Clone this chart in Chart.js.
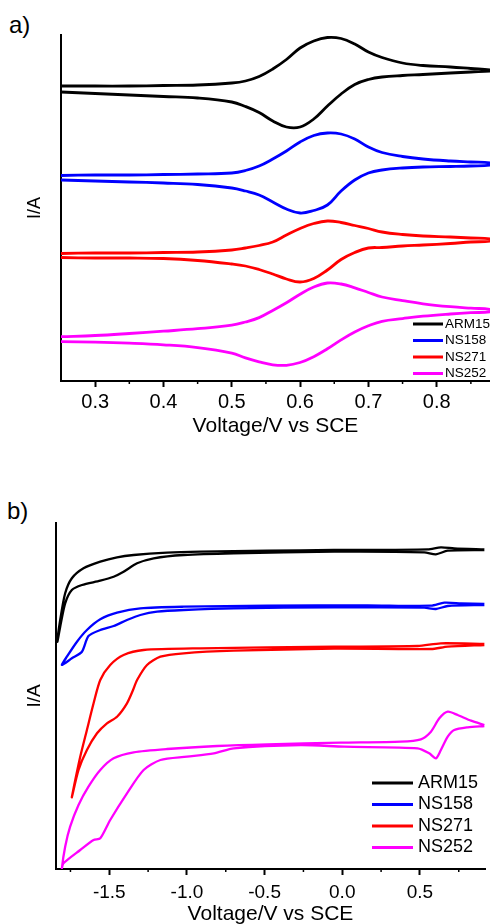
<!DOCTYPE html>
<html><head><meta charset="utf-8">
<script src="https://cdn.jsdelivr.net/npm/chart.js@4.4.1/dist/chart.umd.min.js"></script>
<style>
html,body{margin:0;padding:0;background:#fff;}
body{width:490px;height:924px;overflow:hidden;position:relative;font-family:"Liberation Sans",Arial,sans-serif;}
.lbl{position:absolute;color:#000;line-height:1;white-space:nowrap;}
canvas{position:absolute;left:0;}
</style></head><body>
<div class="lbl" style="left:9px;top:13px;font-size:24px">a)</div>
<div class="lbl" style="left:7px;top:499px;font-size:24px">b)</div>
<canvas id="ca" width="490" height="450" style="top:0"></canvas>
<canvas id="cb" width="490" height="470" style="top:460px"></canvas>
<script>
const seriesNames = ['ARM15','NS158','NS271','NS252'];

// ---- Panel a (0.25 - 0.88 V) : forward (upper) and reverse (lower) branches ----
const voltsA = [0.25,0.30,0.35,0.40,0.45,0.50,0.52,0.54,0.56,0.58,0.60,0.62,0.64,0.66,0.68,0.70,0.72,0.75,0.78,0.82,0.85,0.88];
const arm15FwdA = [296,296,296,296.5,297,299,301,305.5,313,322.5,334,341,344.5,343.5,338,330,324.5,319,316.5,315,313.5,312];
const arm15RevA = [290,288.5,287,285.5,284,280,275.5,269.5,261,255,255,263,276,288,297.5,302.5,305,306.5,307.5,309,310,311];
const ns158FwdA = [206.5,207,207,207.5,208,209,211.5,216,223,231,240,246.5,249,248,243,235,229.5,225.5,223,221,220,219];
const ns158RevA = [202,201,200,199,197.5,194,191,187,180,173,169,171.5,177,191,202,209,212,214,215,215.5,216,217];
const ns271FwdA = [128.5,129,129,129.5,130,132,134,136.5,140,147,153.5,158.5,161,159.5,156.5,153.5,150,147.5,146,145,144,143];
const ns271RevA = [124.5,124,124,123.5,121.5,118,116,112.5,108,103,100,103.5,112,122.5,129.5,134,134.5,136,137,138.5,140,141];
const ns252FwdA = [45.3,46.5,48.5,50.8,53.3,56.8,60,64.4,71.6,79.3,87.8,95,99,98,94.2,89.5,85,81.4,78.2,75.3,73.8,72.5];
const ns252RevA = [40.3,39.8,38.8,37.2,34.4,28.9,24.1,20.2,17.2,16.7,19.5,25.3,33.2,42.1,50,56.2,60.7,63.4,65.8,68,69.3,70.3];
const majorTicksA = [0.3,0.4,0.5,0.6,0.7,0.8];
const minorTicksA = [0.35,0.45,0.55,0.65,0.75,0.85];

// ---- Panel b (-1.84 - 0.92 V) : closed loops, points in scan order ----
const arm15VoltsB = [0.915,0.721,0.635,0.55,-0.053,-0.483,-0.913,-1.128,-1.343,-1.45,-1.558,-1.666,-1.741,-1.784,-1.816,-1.834,-1.816,-1.784,-1.741,-1.676,-1.558,-1.472,-1.408,-1.321,-1.214,-1.021,-0.698,-0.053,0.528,0.603,0.679,0.915];
const arm15CurrB  = [320.7,321.7,322.7,320.7,320,319.3,318.3,317.3,315,312.7,308.3,301.7,291.7,276.7,250,228.3,243.3,266.7,280,285,289.3,293.3,298.3,306.7,311.7,315,316.7,318.3,317.7,315.7,319.3,320];
const ns158VoltsB = [0.915,0.765,0.657,0.571,0.163,-0.483,-1.021,-1.3,-1.45,-1.558,-1.644,-1.708,-1.773,-1.805,-1.741,-1.676,-1.634,-1.558,-1.472,-1.386,-1.3,-1.192,-1.021,-0.698,-0.053,0.528,0.603,0.679,0.915];
const ns158CurrB  = [266,266.7,267.3,264.3,264.7,264.3,263.3,261.7,257.3,250.7,240,228.3,213.3,205,211.7,218.3,234,240,244,250,255,258.3,260,261.7,262.7,262.3,261,264,265];
const ns271VoltsB = [0.915,0.635,0.485,-0.053,-0.913,-1.279,-1.408,-1.494,-1.558,-1.601,-1.644,-1.687,-1.719,-1.741,-1.698,-1.644,-1.579,-1.515,-1.45,-1.386,-1.347,-1.321,-1.257,-1.171,-1.021,-0.698,-0.053,0.571,0.679,0.915];
const ns271CurrB  = [226,226.7,224,223.3,221.7,220,215,205,190,166.7,140,113.3,90,72.7,100,120,136.7,146.7,153.3,166.7,180,190,205,213.3,216.7,219.3,221.3,221,223.3,225];
const ns252VoltsB = [0.915,0.829,0.743,0.679,0.625,0.571,0.506,0.377,-0.01,-0.483,-0.805,-1.128,-1.343,-1.472,-1.558,-1.634,-1.698,-1.752,-1.784,-1.805,-1.795,-1.687,-1.601,-1.558,-1.494,-1.386,-1.279,-1.171,-0.999,-0.827,-0.698,-0.268,0.012,0.485,0.56,0.603,0.635,0.679,0.721,0.808,0.915];
const ns252CurrB  = [145,149.3,155,158.3,151.7,138.3,130.7,128.3,127.3,125.7,124,121,117.7,111.7,100,83.3,65,43.3,23.3,1.7,6.7,20,30,31.7,50,76.7,100,110,113.3,116.7,121.7,125,123.3,121.7,116.7,111.7,120,133.3,140,142.7,144];
const majorTicksB = [-1.5,-1.0,-0.5,0.0,0.5];
const minorTicksB = [-1.75,-1.25,-0.75,-0.25,0.25,0.75];

const COLORS = ['#000000','#0000ff','#ff0000','#ff00ff'];
const FONT = '"Liberation Sans", Arial, sans-serif';

function loopA(fwd, rev){
  const pts = voltsA.map((v,i)=>({x:v,y:fwd[i]}));
  for(let i=voltsA.length-1;i>=0;i--) pts.push({x:voltsA[i],y:rev[i]});
  return pts;
}
function pairs(vs, cs){ return vs.map((v,i)=>({x:v,y:cs[i]})); }

const refinePlugin = {
  id: 'refine',
  afterDraw(chart, args, o){
    const ctx = chart.ctx, xs = chart.scales.x;
    ctx.save();
    ctx.strokeStyle = '#000'; ctx.lineWidth = 1.5;
    (o.minor||[]).forEach(v=>{
      const px = xs.getPixelForValue(v);
      ctx.beginPath(); ctx.moveTo(px, xs.top); ctx.lineTo(px, xs.top + o.minorLen); ctx.stroke();
    });
    ctx.font = o.font; ctx.textBaseline = 'middle'; ctx.textAlign = 'left'; ctx.fillStyle = '#000';
    chart.data.datasets.forEach((ds,i)=>{
      const y = o.legY + i*o.legDy;
      ctx.strokeStyle = ds.borderColor; ctx.lineWidth = o.legLW;
      ctx.beginPath(); ctx.moveTo(o.legX0, y); ctx.lineTo(o.legX1, y); ctx.stroke();
      ctx.fillText(ds.label, o.legTX, y);
    });
    ctx.restore();
  }
};

function makeChart(id, datasets, c){
  return new Chart(document.getElementById(id), {
    type: 'scatter',
    data: { datasets },
    options: {
      responsive: false, animation: false, devicePixelRatio: 1, events: [],
      layout: { autoPadding: false, padding: { top: c.top, right: c.right, bottom: 0, left: 0 } },
      elements: { point: { radius: 0, hoverRadius: 0 }, line: { borderWidth: c.lw, tension: c.tension, fill: false } },
      plugins: { legend: { display: false }, tooltip: { enabled: false }, refine: c.refine },
      scales: {
        x: {
          type: 'linear', position: 'bottom', min: c.xmin, max: c.xmax,
          afterBuildTicks: s => { s.ticks = c.major.map(v=>({value:v})); },
          afterFit: s => { s.height = c.H - c.bottom; },
          ticks: { callback: v => Number(v).toFixed(1), color: '#000', font: { family: FONT, size: c.tickSize }, padding: c.tickPad, maxRotation: 0, autoSkip: false },
          grid: { display: true, drawOnChartArea: false, drawTicks: true, tickLength: 6, tickWidth: 2, tickColor: '#000' },
          border: { display: true, color: '#000', width: 2 },
          title: { display: true, text: 'Voltage/V vs SCE', color: '#000', font: { family: FONT, size: 21 }, padding: { top: 0, bottom: c.titlePadB } }
        },
        y: {
          type: 'linear', position: 'left', min: 1, max: 347,
          afterFit: s => { s.width = c.left; },
          ticks: { display: false },
          grid: { display: false, drawTicks: false },
          border: { display: true, color: '#000', width: 2 },
          title: { display: true, text: 'I/A', color: '#000', font: { family: FONT, size: c.ylabSize }, padding: { top: c.ylabPad, bottom: 0 } }
        }
      }
    },
    plugins: [refinePlugin]
  });
}

const dsA = [
  loopA(arm15FwdA, arm15RevA), loopA(ns158FwdA, ns158RevA), loopA(ns271FwdA, ns271RevA), loopA(ns252FwdA, ns252RevA)
].map((d,i)=>({ label: seriesNames[i], data: d, showLine: true, borderColor: COLORS[i], backgroundColor: COLORS[i] }));

const dsB = [
  pairs(arm15VoltsB, arm15CurrB), pairs(ns158VoltsB, ns158CurrB), pairs(ns271VoltsB, ns271CurrB), pairs(ns252VoltsB, ns252CurrB)
].map((d,i)=>({ label: seriesNames[i], data: d, showLine: true, borderColor: COLORS[i], backgroundColor: COLORS[i] }));

makeChart('ca', dsA, {
  H: 450, top: 35, bottom: 381, left: 61, right: 0, xmin: 0.25, xmax: 0.878,
  major: majorTicksA, tickSize: 20, tickPad: 3, titlePadB: 11.5, ylabSize: 18, ylabPad: 24, lw: 2.8, tension: 0.4,
  refine: { minor: minorTicksA, minorLen: 3, font: '13.5px ' + FONT, legX0: 413, legX1: 443, legTX: 445, legY: 324, legDy: 16.5, legLW: 3 }
});
makeChart('cb', dsB, {
  H: 470, top: 63, bottom: 409, left: 56, right: 5, xmin: -1.843, xmax: 0.919,
  major: majorTicksB, tickSize: 19, tickPad: 6, titlePadB: 3.5, ylabSize: 19, ylabPad: 23, lw: 2.3, tension: 0.25,
  refine: { minor: minorTicksB, minorLen: 3, font: '18px ' + FONT, legX0: 372, legX1: 413, legTX: 418, legY: 323, legDy: 21.5, legLW: 3 }
});
</script>
</body></html>
